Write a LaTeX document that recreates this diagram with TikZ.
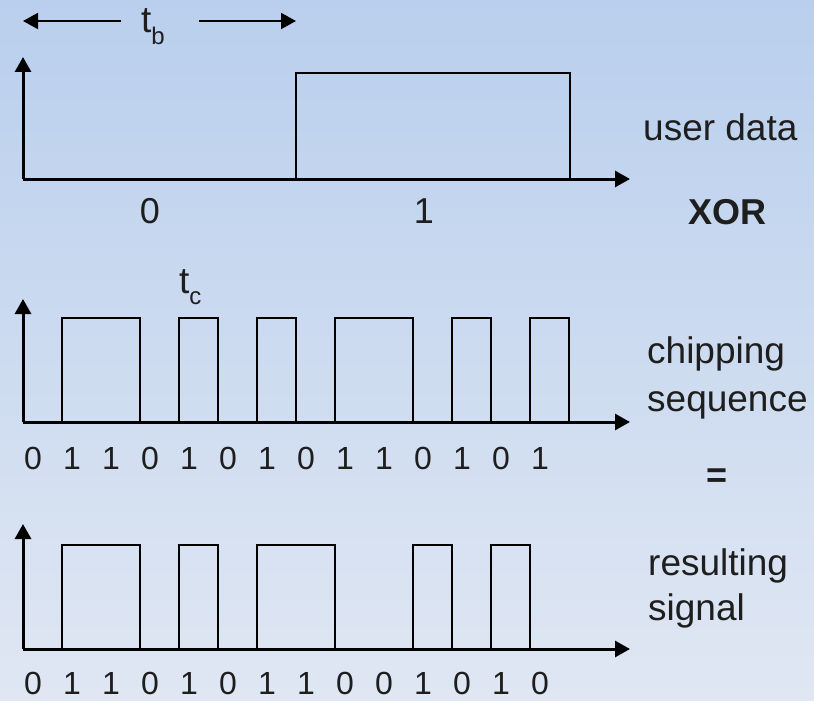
\documentclass[tikz,border=0pt]{standalone}
\usepackage{fontspec}
\setmainfont{Liberation Sans}
\usetikzlibrary{arrows.meta}
\definecolor{bgtop}{RGB}{185,207,237}
\definecolor{bgmid}{RGB}{213,225,241}
\definecolor{bgbot}{RGB}{224,231,243}
\definecolor{ink}{RGB}{30,30,30}
\begin{document}
\begin{tikzpicture}[x=1pt,y=-1pt,
  axis/.style={line width=3pt,-{Triangle[length=15pt,width=16pt]}},
  dimarrow/.style={line width=2pt,-{Triangle[length=15pt,width=16pt]}},
  pulse/.style={line width=1.7pt,line join=miter},
  lbl/.style={font=\fontsize{37}{40}\selectfont,text=ink,inner sep=0pt},
  digit/.style={font=\fontsize{32}{36}\selectfont,text=ink,inner sep=0pt},
  bigdigit/.style={font=\fontsize{36}{40}\selectfont,text=ink,inner sep=0pt}]
\useasboundingbox (0,0) rectangle (814,701);
\shade[top color=bgtop,middle color=bgmid,bottom color=bgbot] (0,0) rectangle (814,701);

% ---- t_b dimension
\node[lbl,anchor=base west] (tb) at (141,33) {t\raisebox{-0.3em}{\fontsize{24}{24}\selectfont b}};
\coordinate (tbL) at (121,21);
\coordinate (tbLe) at (23,21);
\coordinate (tbR) at (199,21);
\coordinate (tbRe) at (296,21);
\draw[dimarrow] (tbL) -- (tbLe);
\draw[dimarrow] (tbR) -- (tbRe);

% ---- user data
\coordinate (o1) at (23,179);
\coordinate (y1) at (23,57);
\coordinate (x1) at (630,179);
\draw[pulse] (296,179) -- (296,73) -- (570,73) -- (570,179);
\draw[axis] (o1) -- (y1);
\draw[axis] (o1) -- (x1);
\node[bigdigit] (ud0) at (150,211) {0};
\node[bigdigit] (ud1) at (424,211) {1};
\node[lbl,anchor=base west] (user) at (643,140) {user data};
\node[lbl,font=\fontsize{36}{40}\selectfont\bfseries] (xor) at (727,212) {XOR};

% ---- chipping sequence
\node[lbl,anchor=base west] (tc) at (179,293) {t\raisebox{-0.3em}{\fontsize{24}{24}\selectfont c}};
\coordinate (o2) at (23,422);
\coordinate (y2) at (23,299);
\coordinate (x2) at (630,422);
\foreach \a/\b in {62/140,179/218,257/296,335/413,452/491,530/569}
  \draw[pulse] (\a,422) -- (\a,318) -- (\b,318) -- (\b,422);
\draw[axis] (o2) -- (y2);
\draw[axis] (o2) -- (x2);
\foreach \d [count=\i from 0] in {0,1,1,0,1,0,1,0,1,1,0,1,0,1}
  \node[digit] (c\i) at ({33+39*\i},458) {\d};
\node[lbl,anchor=base west] (chip) at (647,363) {chipping};
\node[lbl,anchor=base west] (seq) at (647,411) {sequence};
\node[lbl,font=\fontsize{36}{40}\selectfont\bfseries] (eq) at (717,478) {=};

% ---- resulting signal
\coordinate (o3) at (23,649);
\coordinate (y3) at (23,524);
\coordinate (x3) at (630,649);
\foreach \a/\b in {62/140,179/218,257/335,413/452,491/530}
  \draw[pulse] (\a,649) -- (\a,545) -- (\b,545) -- (\b,649);
\draw[axis] (o3) -- (y3);
\draw[axis] (o3) -- (x3);
\foreach \d [count=\i from 0] in {0,1,1,0,1,0,1,1,0,0,1,0,1,0}
  \node[digit] (r\i) at ({33+39*\i},683) {\d};
\node[lbl,anchor=base west] (res) at (648,575) {resulting};
\node[lbl,anchor=base west] (sig) at (648,620) {signal};
\end{tikzpicture}
\end{document}
